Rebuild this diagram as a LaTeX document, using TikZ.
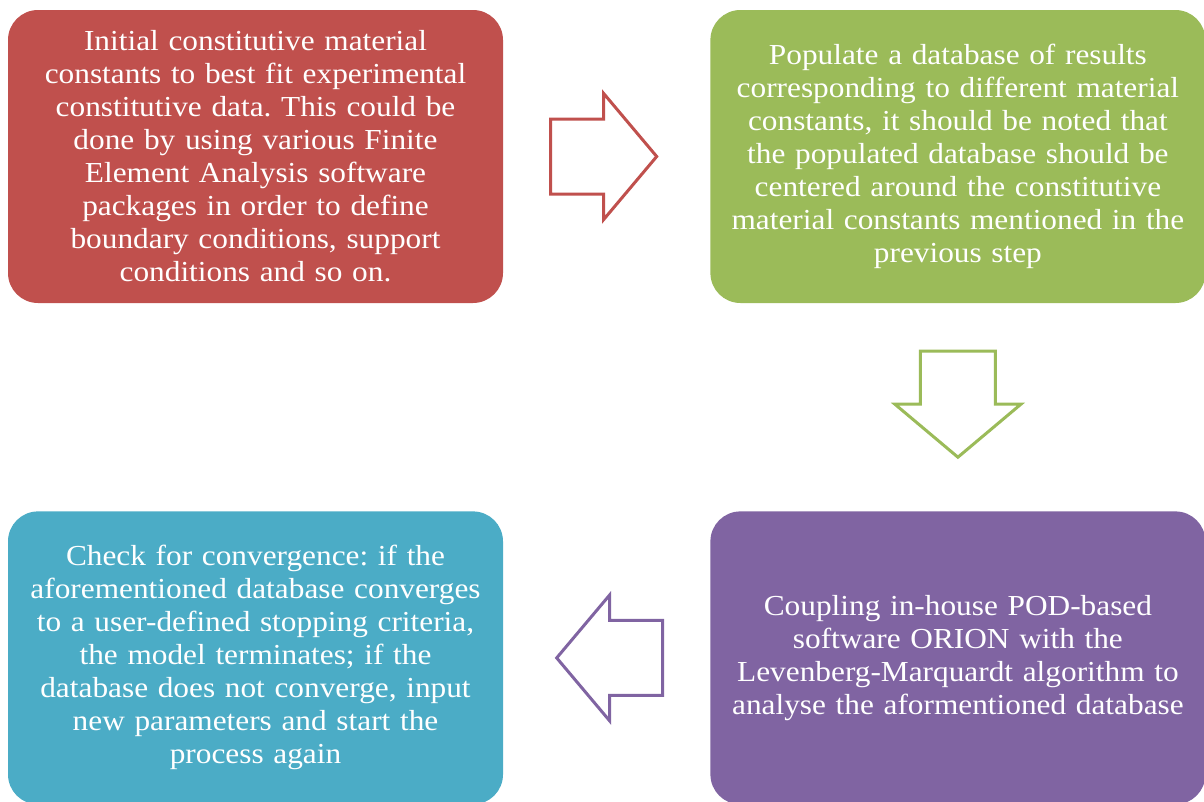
\documentclass[tikz,border=0pt]{standalone}
\usepackage{fontspec}
\setmainfont{Liberation Serif}[FakeStretch=1.08]
\usetikzlibrary{positioning, calc}
\definecolor{fitred}{HTML}{C0504D}
\definecolor{dbgreen}{HTML}{9BBB59}
\definecolor{orionpurple}{HTML}{8064A2}
\definecolor{checkblue}{HTML}{4BACC6}
\frenchspacing
\tikzset{stepbox/.style={rounded corners=30pt, minimum width=495pt, minimum height=293pt, text width=490pt, inner sep=0pt, align=center, text=white, font=\fontsize{29}{33}\selectfont}}
\tikzset{blockarrow/.style={line width=3pt, fill=white, line join=miter}}

\begin{document}
\begin{tikzpicture}[x=1pt, y=-1pt, node distance=207pt and 207pt]
    \useasboundingbox (0,0) rectangle (1204,801);

    \node[stepbox, fill=fitred] (fit) at (255.5,156.5) {Initial constitutive material\\constants to best fit experimental\\constitutive data. This could be\\done by using various Finite\\Element Analysis software\\packages in order to define\\boundary conditions, support\\conditions and so on.};
    \node[stepbox, fill=dbgreen, right=of fit] (populate) {Populate a database of results\\corresponding to different material\\constants, it should be noted that\\the populated database should be\\centered around the constitutive\\material constants mentioned in the\\previous step};
    \node[stepbox, fill=orionpurple, below=208pt of populate] (couple) {Coupling in-house POD-based\\software ORION with the\\Levenberg-Marquardt algorithm to\\analyse the aformentioned database};
    \node[stepbox, fill=checkblue, left=of couple] (check) {Check for convergence: if the\\aforementioned database converges\\to a user-defined stopping criteria,\\the model terminates; if the\\database does not converge, input\\new parameters and start the\\process again};

    % hollow block arrows between the steps
    \coordinate (a1) at ($(fit.east)!0.5!(populate.west) + (-3,0)$);
    \coordinate (a2) at ($(populate.south)!0.5!(couple.north) + (0,-3)$);
    \coordinate (a3) at ($(couple.west)!0.5!(check.east) + (3,0)$);
    \draw[blockarrow, draw=fitred, shift={(a1)}] (-53,-37.5) -- (0,-37.5) -- (0,-63) -- (53,0) -- (0,63) -- (0,37.5) -- (-53,37.5) -- cycle;
    \draw[blockarrow, draw=dbgreen, shift={(a2)}, rotate=-90] (-53,-37.5) -- (0,-37.5) -- (0,-63) -- (53,0) -- (0,63) -- (0,37.5) -- (-53,37.5) -- cycle;
    \draw[blockarrow, draw=orionpurple, shift={(a3)}, rotate=180] (-53,-37.5) -- (0,-37.5) -- (0,-63) -- (53,0) -- (0,63) -- (0,37.5) -- (-53,37.5) -- cycle;
\end{tikzpicture}
\end{document}
